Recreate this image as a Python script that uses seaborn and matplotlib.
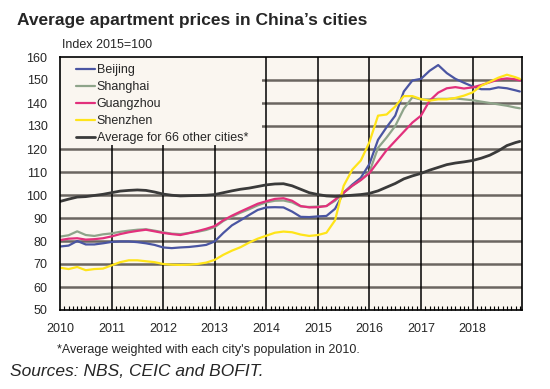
import matplotlib
matplotlib.use("Agg")
import matplotlib.pyplot as plt
from matplotlib.patches import Rectangle
import seaborn as sns
import numpy as np
import pandas as pd

# months since Jan 2010 (every second month, plus Dec 2018)
months = list(range(0, 107, 2)) + [107]

beijing = [77.6, 78.0, 80.0, 78.5, 78.5, 79.0, 79.6, 79.8, 79.8, 79.5,
           79.0, 78.3, 77.2, 76.9, 77.2, 77.4, 77.8, 78.3, 79.8, 83.5,
           86.8, 89.0, 91.3, 93.5, 94.6, 94.7, 94.6, 92.8, 90.5, 90.4,
           90.7, 90.9, 94.0, 101.0, 104.5, 107.5, 113.5, 124.0, 129.5, 134.5,
           145.0, 149.8, 150.5, 154.0, 156.5, 153.0, 150.5, 148.8, 147.2, 146.0,
           146.0, 146.8, 146.4, 145.5, 145.0]
shanghai = [81.9, 82.5, 84.2, 82.6, 82.2, 82.9, 83.3, 84.0, 84.5, 84.9,
            85.1, 84.5, 83.8, 83.2, 83.0, 83.5, 84.0, 84.8, 86.0, 88.7,
            90.6, 92.3, 93.8, 95.5, 96.8, 97.5, 97.6, 96.8, 95.0, 94.8,
            95.0, 95.2, 97.5, 101.0, 104.0, 106.5, 110.0, 120.5, 125.0, 130.0,
            137.5, 142.5, 141.5, 141.6, 141.8, 141.8, 142.0, 141.6, 141.2, 140.6,
            140.0, 139.4, 138.8, 138.0, 137.7]
guangzhou = [80.4, 81.0, 81.2, 80.6, 80.8, 81.2, 82.0, 83.0, 83.8, 84.4,
             84.9, 84.2, 83.5, 83.0, 82.6, 83.4, 84.3, 85.3, 86.5, 89.0,
             91.0, 92.8, 94.5, 96.2, 97.3, 98.3, 98.6, 97.5, 95.2, 94.6,
             94.7, 95.2, 98.0, 101.0, 104.0, 106.5, 109.5, 114.5, 119.5, 123.5,
             127.5, 131.5, 134.5, 141.0, 144.5, 146.4, 146.9, 146.3, 146.8, 147.8,
             149.0, 150.2, 150.7, 150.3, 149.8]
shenzhen = [68.4, 67.8, 68.7, 67.3, 67.8, 68.0, 69.4, 70.8, 71.6, 71.6,
            71.2, 70.8, 70.0, 69.7, 69.6, 69.7, 70.0, 70.6, 71.8, 74.0,
            75.8, 77.3, 79.3, 81.0, 82.3, 83.6, 84.1, 83.8, 82.8, 82.2,
            82.6, 83.6, 89.0, 104.0, 111.0, 115.0, 123.0, 134.5, 135.0, 138.5,
            143.0, 143.0, 141.7, 141.0, 141.6, 141.6, 142.2, 143.2, 144.6, 147.5,
            149.2, 151.0, 152.3, 151.2, 150.5]
average66 = [97.2, 98.2, 99.1, 99.3, 99.8, 100.3, 101.0, 101.7, 102.0, 102.2,
             102.0, 101.3, 100.4, 99.9, 99.6, 99.7, 99.8, 99.9, 100.2, 101.0,
             101.8, 102.5, 103.0, 103.7, 104.4, 104.8, 104.9, 104.0, 102.5, 101.0,
             100.2, 99.6, 99.4, 99.6, 99.9, 100.2, 100.7, 101.8, 103.4, 105.0,
             107.0, 108.3, 109.4, 110.8, 112.0, 113.2, 113.9, 114.4, 115.0, 116.0,
             117.3, 119.2, 121.5, 122.8, 123.3]

names = ["Beijing", "Shanghai", "Guangzhou", "Shenzhen", "Average for 66 other cities*"]
colors = ["#4A55A2", "#8EA48A", "#E2307C", "#FFE419", "#3A3A3A"]
year_ticks = list(range(2010, 2019))

frames = []
for name, vals in zip(names, [beijing, shanghai, guangzhou, shenzhen, average66]):
    frames.append(pd.DataFrame({"x": 2010 + np.array(months) / 12.0,
                                "value": vals, "city": name}))
df = pd.concat(frames, ignore_index=True)

sns.set_style("white")
plt.rcParams["font.family"] = ["Liberation Sans", "DejaVu Sans"]

bg = "#FAF6F0"
fig = plt.figure(figsize=(5.5, 3.89), dpi=100)
ax = fig.add_axes([60 / 550, 1 - 310 / 389, 462 / 550, 253 / 389])
ax.set_facecolor(bg)

# grid
for v in range(60, 160, 10):
    ax.axhline(v, color="#6B6661", lw=1.8, zorder=1)
for yr in year_ticks[1:]:
    ax.axvline(yr, color="black", lw=1.1, zorder=1)

# blank area behind the legend (covers the grid there)
ax.add_patch(Rectangle((0, 0.652), 0.437, 0.348, transform=ax.transAxes,
                       facecolor=bg, edgecolor="none", zorder=2))

sns.lineplot(data=df, x="x", y="value", hue="city", hue_order=names,
             palette=dict(zip(names, colors)), estimator=None, sort=False,
             linewidth=1.6, ax=ax, zorder=3)
for line in ax.get_lines():
    if line.get_color().lower() == "#3a3a3a":
        line.set_linewidth(2.0)

ax.set_xlim(2010, 2010 + 107.5 / 12)
ax.set_ylim(50, 160)
ax.set_yticks(range(50, 170, 10))
ax.set_xticks(year_ticks)
ax.set_xticklabels([str(y) for y in year_ticks])
ax.set_xticks(2010 + np.arange(0, 108) / 12.0, minor=True)
ax.tick_params(axis="x", which="major", length=0, pad=9, labelsize=9)
ax.tick_params(axis="x", which="minor", direction="in", length=3, width=0.8,
               color="black", bottom=True)
ax.tick_params(axis="y", length=0, pad=9, labelsize=9)
ax.set_xlabel("")
ax.set_ylabel("")
for s in ax.spines.values():
    s.set_color("black")
    s.set_linewidth(1.2)
    s.set_visible(True)
    s.set_zorder(4)

leg = ax.legend(loc="upper left", bbox_to_anchor=(0.035, 0.972), frameon=False,
                fontsize=9, handlelength=1.5, handletextpad=0.15,
                labelspacing=0.4, borderaxespad=0, borderpad=0)
leg.set_zorder(5)

fig.text(17 / 550, 1 - 21 / 389, "Average apartment prices in China\u2019s cities",
         fontsize=12.5, fontweight="bold", va="center", ha="left")
fig.text(62 / 550, 1 - 45 / 389, "Index 2015=100", fontsize=9, va="center", ha="left")
fig.text(57 / 550, 1 - 350 / 389,
         "*Average weighted with each city's population in 2010.",
         fontsize=9, va="center", ha="left")
fig.text(10 / 550, 1 - 372 / 389, "Sources: NBS, CEIC and BOFIT.",
         fontsize=12.5, style="italic", va="center", ha="left")

fig.savefig("out.png", dpi=100)
